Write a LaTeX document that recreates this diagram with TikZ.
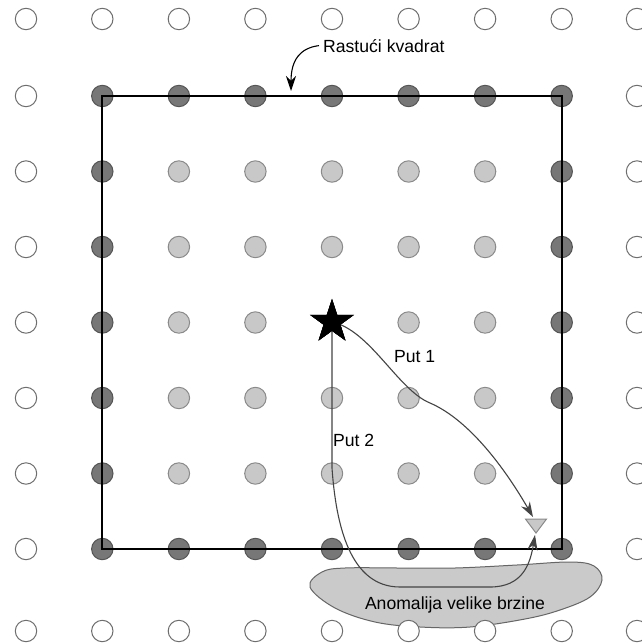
\documentclass[tikz,border=0pt]{standalone}
\usepackage{fontspec}
\setmainfont{Liberation Sans}
\usetikzlibrary{shapes.geometric,arrows.meta}
\definecolor{darkfill}{HTML}{777777}
\definecolor{darkline}{HTML}{555555}
\definecolor{lightfill}{HTML}{C8C8C8}
\definecolor{lightline}{HTML}{8A8A8A}
\definecolor{openline}{HTML}{6E6E6E}
\definecolor{pathcol}{HTML}{444444}
\definecolor{blobfill}{HTML}{CACACA}
\definecolor{blobline}{HTML}{666666}
\begin{document}
\begin{tikzpicture}[x=1pt,y=-1pt,
  dotbase/.style={circle,minimum size=21.4pt,inner sep=0pt,outer sep=0pt,line width=1pt},
  opendot/.style={dotbase,draw=openline,fill=white},
  darkdot/.style={dotbase,draw=darkline,fill=darkfill},
  lightdot/.style={dotbase,draw=lightline,fill=lightfill},
  txt/.style={font=\fontsize{17.6}{21}\selectfont,inner sep=0pt,text=black},
  pathline/.style={draw=pathcol,line width=1.1pt},
  tipstyle/.style={-{Stealth[length=15pt,width=10pt]}},
  starshape/.style={star,star points=5,star point ratio=2.6,minimum size=45pt,inner sep=0pt,fill=black,draw=black}]
\useasboundingbox (0,0) rectangle (641,643);
\fill[white] (0,0) rectangle (641,643);
% anomaly blob
\draw[fill=blobfill,draw=blobline,line width=1pt] plot[smooth cycle,tension=0.6] coordinates
  {(310,587) (322,572) (345,568) (400,568) (455,568) (517,565) (570,562) (594,566) (602,580) (590,597) (560,610) (525,619) (470,627) (420,627) (375,622) (335,608)};
% grid of circles
\foreach \yy [count=\j from 0] in {19,96,171.5,247,322.5,398,473.5,549,631}{
  \foreach \xx [count=\i from 0] in {26,102.3,178.9,255.4,332,408.6,485.1,561.7,637}{
    \pgfmathtruncatemacro{\kind}{(\i==0 || \i==8 || \j==0 || \j==8) ? 0 : ((\i==1 || \i==7 || \j==1 || \j==7) ? 1 : ((\i==4 && \j==4) ? 3 : 2))}
    \ifcase\kind
      \node[opendot] (c-\i-\j) at (\xx,\yy) {};
    \or
      \node[darkdot] (c-\i-\j) at (\xx,\yy) {};
    \or
      \node[lightdot] (c-\i-\j) at (\xx,\yy) {};
    \or
      \coordinate (c-\i-\j) at (\xx,\yy);
    \fi
  }
}
% growing square
\draw[black,line width=2.2pt] (c-1-1.center) rectangle (c-7-7.center);
% label with arrow
\node[txt,anchor=base west,inner sep=4pt] (lbl) at (319,52) {Rastući kvadrat};
\coordinate (lbltip) at (291,91);
\draw[black,line width=1.1pt,tipstyle] (lbl.west) .. controls (300,48) and (291,60) .. (lbltip);
% star
\node[starshape] (star) at (332,322) {};
% triangle (receiver)
\coordinate (p1end) at (533,517);
\coordinate (p2end) at (535,535);
\draw[fill=lightfill,draw=lightline,line width=1pt] (525.5,519) -- (546.5,519) -- (536,533) -- cycle;
% paths
\draw[pathline,tipstyle] (star.center) .. controls (370,330) and (398,390) .. (430,403)
   .. controls (465,418) and (500,460) .. (p1end);
\draw[pathline,tipstyle] (star.center) -- (332,468) .. controls (336,525) and (350,587) .. (400,587)
   -- (490,587) .. controls (522,587) and (530,565) .. (p2end);
\node[starshape] at (star.center) {};
% texts
\node[txt,anchor=base west] (put1) at (394,362) {Put 1};
\node[txt,anchor=base west] (put2) at (333,446) {Put 2};
\node[txt,anchor=base] (anom) at (455,609) {Anomalija velike brzine};
\end{tikzpicture}
\end{document}
